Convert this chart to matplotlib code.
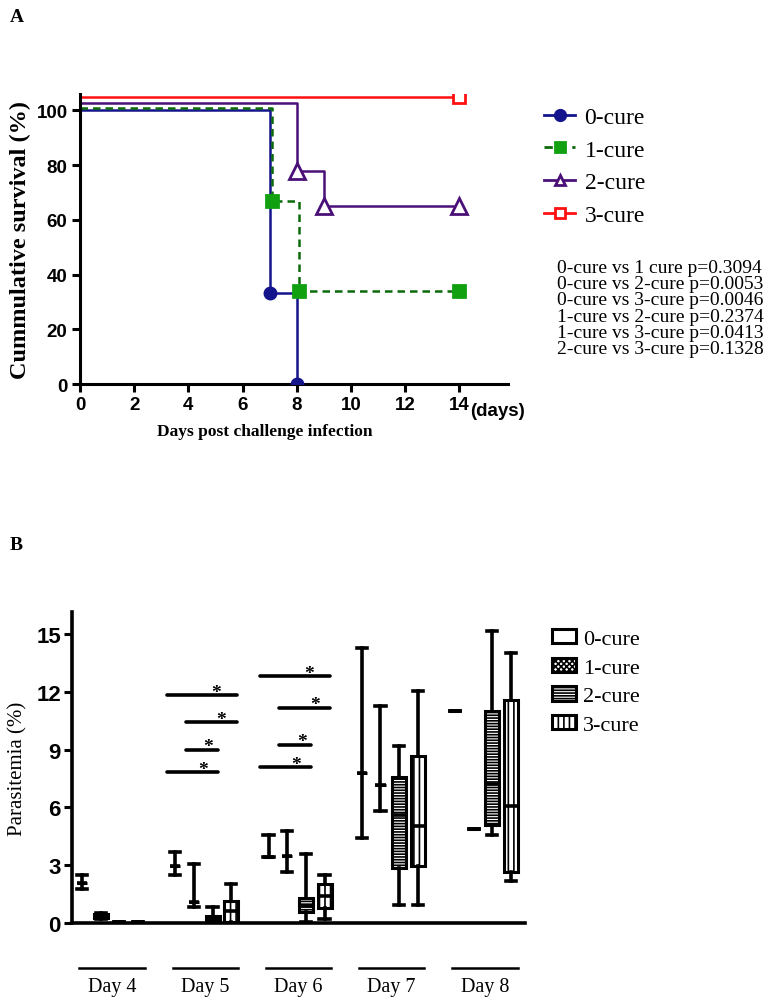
import matplotlib
matplotlib.use("Agg")
import matplotlib.pyplot as plt
from matplotlib.lines import Line2D
from matplotlib.patches import Patch
import matplotlib.transforms as mtransforms

plt.rcParams['hatch.linewidth'] = 1.2
SERIF = 'Liberation Serif'
SANS = 'Liberation Sans'

# ---- panel A data: Kaplan-Meier steps (days, survival %) ----
groups = ['0-cure', '1-cure', '2-cure', '3-cure']
km_days = [[0, 7, 8], [0, 7.1, 8.1, 14], [0, 8, 9, 14], [0, 14]]
km_surv = [[100, 33.3, 0], [101, 67, 34, 34], [102.7, 78, 65, 65], [105, 105]]
km_colors = ['#14148c', '#0a6a0a', '#4a1078', '#ff1010']
km_mfc = ['#14148c', '#10a010', 'white', 'white']
km_mec = ['#14148c', '#10a010', '#4a1078', '#ff1010']
km_markers = ['o', 's', '^', 's']
km_styles = ['-', (0, (3, 2)), '-', '-']

pvals = ['0-cure vs 1 cure p=0.3094', '0-cure vs 2-cure p=0.0053',
         '0-cure vs 3-cure p=0.0046', '1-cure vs 2-cure p=0.2374',
         '1-cure vs 3-cure p=0.0413', '2-cure vs 3-cure p=0.1328']

# ---- panel B data: parasitemia (%) per day and group ----
days = ['Day 4', 'Day 5', 'Day 6', 'Day 7', 'Day 8']
# each entry: (whisker low, q1, median, q3, whisker high), ordered 0..3-cure
para_stats = [
    [(1.76, 2.08, 2.08, 2.08, 2.49), (0.2, 0.25, 0.35, 0.45, 0.52),
     (0.05, 0.05, 0.05, 0.05, 0.05), (0.05, 0.05, 0.05, 0.05, 0.05)],
    [(2.49, 2.98, 2.98, 2.98, 3.70), (0.81, 1.1, 1.1, 1.1, 3.06),
     (0.0, 0.05, 0.2, 0.38, 0.81), (0.0, 0.05, 0.6, 1.16, 2.02)],
    [(3.42, 3.42, 3.42, 3.42, 4.57), (2.63, 3.49, 3.49, 3.49, 4.79),
     (0.03, 0.55, 0.9, 1.28, 3.58), (0.21, 0.76, 1.42, 2.02, 2.49)],
    [(4.39, 7.78, 7.78, 7.78, 14.26), (5.80, 7.18, 7.18, 7.18, 11.24),
     (0.95, 2.83, 5.6, 7.59, 9.20), (0.95, 2.97, 5.02, 8.68, 12.02)],
    [(10.99, 10.99, 10.99, 10.99, 10.99), (4.88, 4.88, 4.88, 4.88, 4.88),
     (4.57, 5.10, 7.21, 10.99, 15.17), (2.16, 2.63, 6.09, 11.59, 14.01)],
]
# significance bars: (day index, group a, group b, height)
sig_bars = [(1, 0, 3, 11.83), (1, 1, 3, 10.41), (1, 1, 2, 9.0), (1, 0, 2, 7.85),
            (2, 0, 3, 12.8), (2, 1, 3, 11.18), (2, 1, 2, 9.26), (2, 0, 2, 8.08)]
hatches = ['', 'xxxxxx', '------', '|||']

fig = plt.figure(figsize=(7.84, 10.03), dpi=100)

# ================= Panel A =================
axA = fig.add_axes([80/784, 1-385/1003, 428/784, 290/1003])
for i in range(4):
    axA.step(km_days[i], km_surv[i], where='post', color=km_colors[i],
             lw=1.8, linestyle=km_styles[i], zorder=2)
    axA.plot(km_days[i][1:], km_surv[i][1:], linestyle='none',
             marker=km_markers[i], ms=[8, 8.5, 11, 9][i], mfc=km_mfc[i],
             mec=km_mec[i], mew=2, zorder=3)
axA.set_xlim(0, 15.8)
axA.set_ylim(0, 106)
axA.set_xticks(range(0, 15, 2))
axA.set_yticks(range(0, 101, 20))
for s in ['top', 'right']:
    axA.spines[s].set_visible(False)
for s in ['left', 'bottom']:
    axA.spines[s].set_linewidth(2.2)
axA.tick_params(direction='out', length=6, width=2.2, pad=3)
for lab in axA.get_xticklabels() + axA.get_yticklabels():
    lab.set_fontfamily(SANS)
    lab.set_fontweight('bold')
    lab.set_fontsize(13.5)
fig.text(265/784, 1-432/1003, 'Days post challenge infection', fontfamily=SERIF,
         fontweight='bold', fontsize=12.5, ha='center', va='center')
axA.set_ylabel('Cummulative survival (%)', fontfamily=SERIF,
               fontweight='bold', fontsize=17.5, labelpad=4)
fig.text(470/784, 1-412/1003, '(days)', fontfamily=SANS, fontweight='bold',
         fontsize=13.5, ha='left', va='center')

handlesA = [Line2D([], [], color=km_colors[i], lw=2, linestyle=km_styles[i],
                   marker=km_markers[i], ms=7.5, mfc=km_mfc[i],
                   mec=km_mec[i], mew=2) for i in range(4)]
fig.legend(handlesA, groups, loc='upper left',
           bbox_to_anchor=(535/784, 1-98/1003), frameon=False,
           prop={'family': SERIF, 'size': 17}, handlelength=1.3,
           labelspacing=0.47, handletextpad=0.4, borderaxespad=0)
fig.text(557/784, 1-260/1003, '\n'.join(pvals), fontfamily=SERIF,
         fontsize=14, ha='left', va='top', linespacing=0.94)

fig.text(10/784, 1-17/1003, 'A', fontfamily=SERIF, fontweight='bold',
         fontsize=14, va='center')

# ================= Panel B =================
axB = fig.add_axes([72/784, 1-924/1003, 453/784, 311/1003])
stats, pos, widths = [], [], []
for d in range(len(days)):
    for g in range(4):
        lo, q1, med, q3, hi = para_stats[d][g]
        stats.append(dict(whislo=lo, q1=q1, med=med, q3=q3, whishi=hi,
                          fliers=[]))
        pos.append(d*5 + g)
        widths.append(0.55 if q1 == q3 else 0.75)
bp = axB.bxp(stats, positions=pos, widths=widths, capwidths=0.55,
             patch_artist=True, showfliers=False,
             boxprops=dict(linewidth=2.2, edgecolor='black'),
             whiskerprops=dict(linewidth=2.6, color='black'),
             capprops=dict(linewidth=2.6, color='black'),
             medianprops=dict(linewidth=2.6, color='black'))
for k, box in enumerate(bp['boxes']):
    box.set_facecolor('white')
    box.set_hatch(hatches[k % 4])

for d, ga, gb, h in sig_bars:
    x0 = d*5 + ga - 0.45
    x1 = d*5 + gb + 0.3
    axB.plot([x0, x1], [h, h], color='black', lw=2.6, solid_capstyle='round')
    axB.text(x0 + 0.7*(x1 - x0), h - 0.3, '*', fontfamily=SERIF,
             fontweight='bold', fontsize=14, ha='center', va='bottom')

axB.set_xlim(-0.54, 23.75)
axB.set_ylim(0, 16.14)
axB.set_yticks(range(0, 16, 3))
axB.set_xticks([])
for s in ['top', 'right']:
    axB.spines[s].set_visible(False)
for s in ['left', 'bottom']:
    axB.spines[s].set_linewidth(2.6)
axB.tick_params(axis='y', direction='out', length=6, width=2.2, pad=2)
for lab in axB.get_yticklabels():
    lab.set_fontfamily(SANS)
    lab.set_fontweight('bold')
    lab.set_fontsize(16)
axB.set_ylabel('Parasitemia (%)', fontfamily=SERIF, fontsize=15, labelpad=6)

trans = mtransforms.blended_transform_factory(axB.transData, axB.transAxes)
for d, name in enumerate(days):
    c = d*5 + 1.6
    axB.plot([c - 1.75, c + 1.75], [-0.145, -0.145], color='black', lw=1.8,
             transform=trans, clip_on=False)
    axB.text(c, -0.205, name, transform=trans, fontfamily=SERIF, fontsize=14.5,
             ha='center', va='center')

handlesB = [Patch(facecolor='white', edgecolor='black', hatch=hatches[g],
                  linewidth=2.2) for g in range(4)]
fig.legend(handlesB, groups, loc='upper left',
           bbox_to_anchor=(543/784, 1-621/1003), frameon=False,
           prop={'family': SERIF, 'size': 16}, handlelength=1.1,
           handleheight=0.6, labelspacing=0.4, handletextpad=0.3,
           borderaxespad=0)

fig.text(10/784, 1-545/1003, 'B', fontfamily=SERIF, fontweight='bold',
         fontsize=14, va='center')

fig.savefig('out.png', dpi=100)
